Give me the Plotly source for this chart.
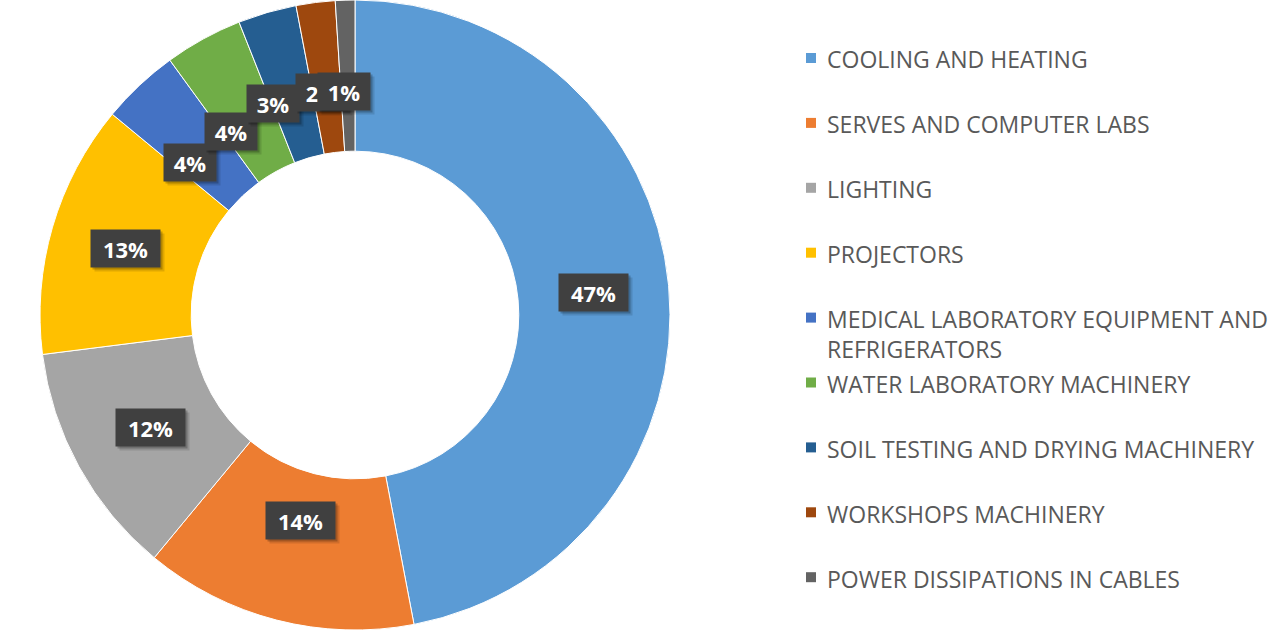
import math
import plotly.graph_objects as go

# Energy consumption share by category
categories = [
    "COOLING AND HEATING",
    "SERVES AND COMPUTER LABS",
    "LIGHTING",
    "PROJECTORS",
    "MEDICAL LABORATORY EQUIPMENT AND REFRIGERATORS",
    "WATER LABORATORY MACHINERY",
    "SOIL TESTING AND DRYING MACHINERY",
    "WORKSHOPS MACHINERY",
    "POWER DISSIPATIONS IN CABLES",
]
shares = [47, 14, 12, 13, 4, 4, 3, 2, 1]
colors = ["#5B9BD5", "#ED7D31", "#A5A5A5", "#FFC000", "#4472C4",
          "#70AD47", "#255E91", "#9E480E", "#636363"]
legend_text = [
    "COOLING AND HEATING",
    "SERVES AND COMPUTER LABS",
    "LIGHTING",
    "PROJECTORS",
    "MEDICAL LABORATORY EQUIPMENT AND<br>REFRIGERATORS",
    "WATER LABORATORY MACHINERY",
    "SOIL TESTING AND DRYING MACHINERY",
    "WORKSHOPS MACHINERY",
    "POWER DISSIPATIONS IN CABLES",
]

W, H = 1284, 630
PIE_W = 710              # width of the pie's domain in px
HOLE = 0.52
cx, cy = PIE_W / 2, H / 2
radius = min(PIE_W, H) / 2

fig = go.Figure()
fig.add_trace(go.Pie(
    labels=categories,
    values=shares,
    hole=HOLE,
    sort=False,
    direction="clockwise",
    rotation=0,
    textinfo="none",
    hoverinfo="label+percent",
    marker=dict(colors=colors, line=dict(color="white", width=1)),
    domain=dict(x=[0, PIE_W / W], y=[0, 1]),
    showlegend=False,
))

# Data labels: dark boxes placed at each slice's mid-angle
label_radius = [0.76, 0.70, 0.74, 0.76, 0.70, 0.70, 0.70, 0.70, 0.70]
label_nudge = [(0, 0), (0, -8), (0, 0), (0, 0), (-14, 8),
               (-18, 10), (-20, 0), (-5, -4), (-4, -3)]
total = sum(shares)
cum = 0
label_font = dict(family="Open Sans", size=22, color="white", weight="bold")
for v, rf, (dx, dy) in zip(shares, label_radius, label_nudge):
    mid = (cum + v / 2) / total * 2 * math.pi
    cum += v
    r = rf * radius
    px = cx + r * math.sin(mid) + dx
    py = cy - r * math.cos(mid) + dy
    txt = f"{v}%"
    bw = 17 * len(txt) + 10
    pos = dict(x=px / W, y=1 - py / H, xref="paper", yref="paper",
               xanchor="center", yanchor="middle", showarrow=False,
               width=bw, height=29, borderpad=4)
    # soft drop shadow under the label box
    for sx, sy, col in [(4, -4, "rgba(0,0,0,0.12)"), (2, -2, "rgba(0,0,0,0.22)")]:
        fig.add_annotation(text=" ", xshift=sx, yshift=sy, bgcolor=col,
                           font=dict(size=20), **pos)
    fig.add_annotation(text=txt, font=label_font, bgcolor="#404040", **pos)

# Legend: colour square and caption per category, evenly spaced rows
row0, row_step = 58, 64.9
sq_x0, sq_size, text_x = 806, 10, 826
for i, (txt, col) in enumerate(zip(legend_text, colors)):
    yc = row0 + row_step * i
    fig.add_shape(
        type="rect", xref="paper", yref="paper",
        x0=sq_x0 / W, x1=(sq_x0 + sq_size) / W,
        y0=1 - (yc + sq_size / 2) / H, y1=1 - (yc - sq_size / 2) / H,
        fillcolor=col, line=dict(width=0),
    )
    fig.add_annotation(
        x=text_x / W, y=1 - (yc - 15.5) / H, xref="paper", yref="paper",
        xanchor="left", yanchor="top", align="left",
        text=txt, showarrow=False, borderpad=0,
        font=dict(family="Open Sans", size=23, color="#595959"),
    )

fig.update_layout(
    width=W, height=H, autosize=False,
    margin=dict(l=0, r=0, t=0, b=0),
    paper_bgcolor="white", plot_bgcolor="white",
)

fig.write_html("out.html")
